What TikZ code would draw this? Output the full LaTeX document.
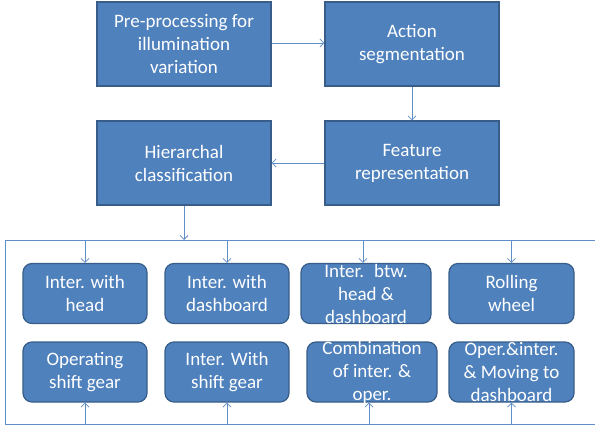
\documentclass[tikz,border=0pt]{standalone}
\usepackage{fontspec}
\setmainfont{Carlito}
\usepackage{xcolor}
\usetikzlibrary{arrows.meta}

\definecolor{boxfill}{RGB}{79,129,189}
\definecolor{boxline}{RGB}{56,93,138}
\definecolor{flowline}{RGB}{96,142,200}

\begin{document}
\begin{tikzpicture}[
        x=1pt, y=-1pt,
        >={Straight Barb[length=4pt,width=8pt]},
        stage/.style={draw=boxline, fill=boxfill, line width=1.2pt,
            minimum width=174pt, minimum height=84pt, inner sep=0pt,
            text=white, align=center,
            font=\fontsize{19}{23}\selectfont},
        act/.style={draw=boxline, fill=boxfill, line width=1.2pt,
            rounded corners=9pt, minimum height=60pt, inner sep=0pt},
        acttext/.style={text=white, align=center, inner sep=0pt,
            font=\fontsize{19}{23}\selectfont},
        flow/.style={draw=flowline, line width=0.8pt}]
        \useasboundingbox (0,0) rectangle (595,428);
        % NODES
        % processing chain
        \node[stage] (Pre) at (184,44) {Pre-processing for\\illumination\\variation};
        \node[stage] (Seg) at (412,44) {Action\\segmentation};
        \node[stage] (Feat) at (412,163) {Feature\\representation};
        \node[stage] (Hier) at (184,163) {Hierarchal\\classification};
        % classes, first row
        \node[act, minimum width=124pt, label={[acttext]center:{Inter. with\\head}}] (A1) at (85,293.5) {};
        \node[act, minimum width=124pt, label={[acttext]center:{Inter. with\\dashboard}}] (A2) at (227,293.5) {};
        \node[act, minimum width=130pt, label={[acttext]center:{Inter.~ btw.\\head \&\\dashboard}}] (A3) at (366,293.5) {};
        \node[act, minimum width=125pt, label={[acttext]center:{Rolling\\wheel}}] (A4) at (511.5,293.5) {};
        % classes, second row
        \node[act, minimum width=124pt, label={[acttext]center:{Operating\\shift gear}}] (B1) at (85,372) {};
        \node[act, minimum width=124pt, label={[acttext]center:{Inter. With\\shift gear}}] (B2) at (227,372) {};
        \node[act, minimum width=130pt, label={[acttext]center:{Combination\\of inter. \&\\oper.}}] (B3) at (372,372) {};
        \node[act, minimum width=125pt, label={[acttext]center:{Oper.\&inter.\\\& Moving to\\dashboard}}] (B4) at (511.5,372) {};
        % frame corners
        \coordinate (FrTR) at (598,240);
        \coordinate (FrTL) at (5,240);
        \coordinate (FrBL) at (5,424);
        \coordinate (FrBR) at (598,424);
        \coordinate (FrIn) at (184,240);
        % feet of the arrows into the third column
        \coordinate (A3in) at ([xshift=-3pt]A3.north);
        \coordinate (B3in) at ([xshift=-3pt]B3.south);

        % ARROWS
        \draw[flow, ->] (Pre.east |- 0,43) -- (Seg.west |- 0,43);
        \draw[flow, ->] (Seg) -- (Feat);
        \draw[flow, ->] (Feat) -- (Hier);
        \draw[flow, ->] (Hier) -- (FrIn);
        \draw[flow] (FrTR) -- (FrTL) -- (FrBL) -- (FrBR);
        \draw[flow, ->] (FrTL -| A1) -- (A1);
        \draw[flow, ->] (FrTL -| A2) -- (A2);
        \draw[flow, ->] (FrTL -| A3in) -- (A3in);
        \draw[flow, ->] (FrTL -| A4) -- (A4);
        \draw[flow, ->] (FrBL -| B1) -- (B1);
        \draw[flow, ->] (FrBL -| B2) -- (B2);
        \draw[flow, ->] (FrBL -| B3in) -- (B3in);
        \draw[flow, ->] (FrBL -| B4) -- (B4);
    \end{tikzpicture}
\end{document}
